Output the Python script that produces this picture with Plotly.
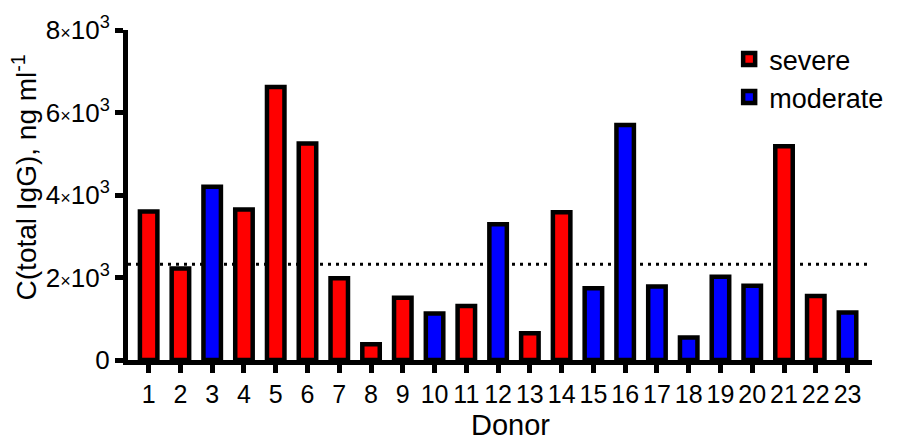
import plotly.graph_objects as go

donors = list(range(1, 24))
igg_values = [3600, 2220, 4200, 3650, 6620, 5250, 1980, 380, 1510, 1130, 1310, 3290,
              650, 3580, 1740, 5700, 1780, 545, 2020, 1800, 5180, 1550, 1150]
severity = ["severe", "severe", "moderate", "severe", "severe", "severe", "severe", "severe",
            "severe", "moderate", "severe", "moderate", "severe", "severe", "moderate",
            "moderate", "moderate", "moderate", "moderate", "moderate", "severe", "severe",
            "moderate"]
threshold = 2320
ytick_vals = [0, 2000, 4000, 6000, 8000]
ytick_text = ["0",
              "2<span style='font-size:18px'>×</span>10<sup>3</sup>",
              "4<span style='font-size:18px'>×</span>10<sup>3</sup>",
              "6<span style='font-size:18px'>×</span>10<sup>3</sup>",
              "8<span style='font-size:18px'>×</span>10<sup>3</sup>"]
x_title = "Donor"
y_title = "C(total IgG), ng ml<sup>-1</sup>"

colors = {"severe": "#FF0000", "moderate": "#0000FF"}
FONT = "Liberation Sans, Arial, sans-serif"

fig = go.Figure()
for grp in ["severe", "moderate"]:
    xs = [d for d, s in zip(donors, severity) if s == grp]
    ys = [v for v, s in zip(igg_values, severity) if s == grp]
    fig.add_trace(go.Bar(
        x=xs, y=ys, name=grp, width=0.55,
        marker=dict(color=colors[grp], line=dict(color="black", width=4.5)),
    ))

fig.add_shape(type="line", xref="paper", x0=0, x1=1, yref="y", y0=threshold, y1=threshold,
              line=dict(color="black", width=3, dash="3px,5px"), layer="below")

# axis titles as annotations for precise placement
fig.add_annotation(text=y_title, xref="paper", yref="paper", x=-0.139, y=0.552,
                   textangle=-90, showarrow=False, xanchor="center", yanchor="middle",
                   font=dict(size=28, family=FONT, color="black"))
fig.add_annotation(text=x_title, xref="paper", yref="paper", x=0.514, y=-0.197,
                   showarrow=False, xanchor="center", yanchor="middle",
                   font=dict(size=29, family=FONT, color="black"))

# the page body adds an 8px margin, so the figure is 8px smaller and margins shifted
fig.update_layout(
    width=893, height=433,
    margin=dict(l=120, r=16, t=22, b=81),
    paper_bgcolor="white", plot_bgcolor="white",
    barmode="overlay",
    font=dict(family=FONT, color="black", size=24),
    showlegend=True,
    legend=dict(x=0.808, y=0.985, xanchor="left", yanchor="top",
                font=dict(size=27, family=FONT), bgcolor="rgba(0,0,0,0)",
                tracegroupgap=0),
)
fig.update_xaxes(
    range=[0.35, 23.77], tickmode="array", tickvals=donors, ticktext=[str(d) for d in donors],
    showline=True, linecolor="black", linewidth=5, ticks="outside", ticklen=8, tickwidth=5,
    tickcolor="black", showgrid=False, zeroline=False, tickfont=dict(size=25),
    automargin=False,
)
fig.update_yaxes(
    range=[0, 8000], tickmode="array", tickvals=ytick_vals, ticktext=ytick_text,
    showline=True, linecolor="black", linewidth=5, ticks="outside", ticklen=8, tickwidth=5,
    tickcolor="black", showgrid=False, zeroline=False, tickfont=dict(size=26),
    automargin=False,
)

fig.write_html("out.html")
